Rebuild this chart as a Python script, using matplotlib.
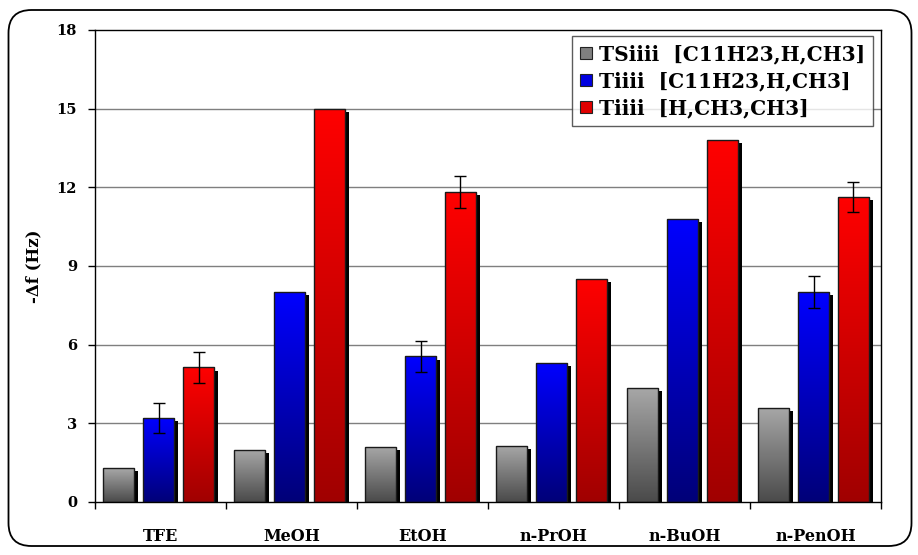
import numpy as np
import matplotlib
matplotlib.use("Agg")
import matplotlib.pyplot as plt
from matplotlib.colors import LinearSegmentedColormap
from matplotlib.patches import FancyBboxPatch
import matplotlib.patheffects as pe

plt.rcParams['font.family'] = ['DejaVu Serif']
plt.rcParams['font.weight'] = 'bold'

categories = ["TFE", "MeOH", "EtOH", "n-PrOH", "n-BuOH", "n-PenOH"]
series_labels = ["TSiiii  [C11H23,H,CH3]", "Tiiii  [C11H23,H,CH3]", "Tiiii  [H,CH3,CH3]"]
gray_vals = [1.28, 2.0, 2.1, 2.15, 4.35, 3.6]
blue_vals = [3.2, 8.0, 5.55, 5.3, 10.8, 8.0]
red_vals = [5.13, 15.0, 11.82, 8.5, 13.8, 11.63]
gray_err = [0, 0, 0, 0, 0, 0]
blue_err = [0.58, 0, 0.58, 0, 0, 0.6]
red_err = [0.58, 0, 0.6, 0, 0, 0.58]
y_ticks = [0, 3, 6, 9, 12, 15, 18]

values = [gray_vals, blue_vals, red_vals]
errors = [gray_err, blue_err, red_err]
# (top colour, bottom colour) of each series gradient
grads = [("#a8a8a8", "#4a4a4a"), ("#0000ff", "#000078"), ("#ff0000", "#a00000")]
legend_colors = ["#808080", "#0000e0", "#e00000"]

fig = plt.figure(figsize=(9.18, 5.55), dpi=100)
ax = fig.add_axes([0.1035, 0.0955, 0.9597 - 0.1035, 0.946 - 0.0955])

# rounded outer frame
frame = FancyBboxPatch((8.5 / 918, 9 / 555), 903 / 918, 536 / 555,
                       boxstyle="round,pad=0,rounding_size=0.025",
                       transform=fig.transFigure, fill=False, edgecolor="black",
                       linewidth=1.3, mutation_aspect=918 / 555)
fig.patches.append(frame)

x = np.arange(len(categories))
width = 0.237
step = 0.305

grad = np.linspace(1, 0, 256).reshape(-1, 1)
handles = []
for k, (vals, errs, (ctop, cbot)) in enumerate(zip(values, errors, grads)):
    pos = x + (k - 1) * step - 0.015
    bars = ax.bar(pos, vals, width, color=cbot, edgecolor="none", zorder=2,
                  path_effects=[pe.SimplePatchShadow(offset=(3, -2.2), shadow_rgbFace="black", alpha=1.0),
                                pe.Normal()])
    cmap = LinearSegmentedColormap.from_list("g%d" % k, [cbot, ctop])
    for b in bars:
        x0, y0 = b.get_x(), b.get_y()
        w, h = b.get_width(), b.get_height()
        im = ax.imshow(grad, extent=[x0, x0 + w, y0, y0 + h], aspect="auto",
                       cmap=cmap, vmin=0, vmax=1, origin="upper", zorder=2.5,
                       interpolation="bilinear")
        im.set_clip_path(b)
    ax.bar(pos, vals, width, fill=False, edgecolor="#1a1a1a", linewidth=1.0, zorder=3)
    e = np.array(errs, dtype=float)
    m = e > 0
    ax.errorbar(pos[m], np.array(vals)[m], yerr=e[m], fmt="none", ecolor="black",
                elinewidth=1.0, capsize=4, capthick=1.0, zorder=4)
    handles.append(plt.Rectangle((0, 0), 1, 1, facecolor=legend_colors[k],
                                 edgecolor="#222222", linewidth=0.8))

ax.set_xlim(-0.5, len(categories) - 0.5)
ax.set_ylim(0, 18)
ax.set_aspect("auto")

ax.set_yticks(y_ticks)
ax.set_yticklabels([str(t) for t in y_ticks], fontsize=10.5, fontweight="bold")
ax.set_xticks(x)
ax.set_xticklabels(categories, fontsize=11.5, fontweight="bold")
ax.set_xticks(np.arange(-0.5, len(categories) + 0.5, 1), minor=True)
ax.tick_params(axis="x", which="major", length=0, pad=19)
ax.tick_params(axis="x", which="minor", length=5, width=1, direction="out")
ax.tick_params(axis="y", length=5, width=1, direction="out", pad=8)

for t in y_ticks[1:-1]:
    ax.axhline(t, color="#7f7f7f", linewidth=1.0, zorder=1)

for s in ax.spines.values():
    s.set_linewidth(1.0)
    s.set_color("black")

ax.set_ylabel("-\u0394f (Hz)", fontsize=12, fontweight="bold", labelpad=10)

leg = ax.legend(handles, series_labels, loc="upper right", bbox_to_anchor=(0.9975, 1.0),
                fontsize=14.5, frameon=True, fancybox=False, handlelength=0.6,
                handleheight=0.6, handletextpad=0.35, borderpad=0.4,
                labelspacing=0.35, borderaxespad=0.3)
leg.get_frame().set_edgecolor("#333333")
leg.get_frame().set_linewidth(1.0)
for t in leg.get_texts():
    t.set_fontweight("bold")

fig.savefig("out.png", dpi=100)
